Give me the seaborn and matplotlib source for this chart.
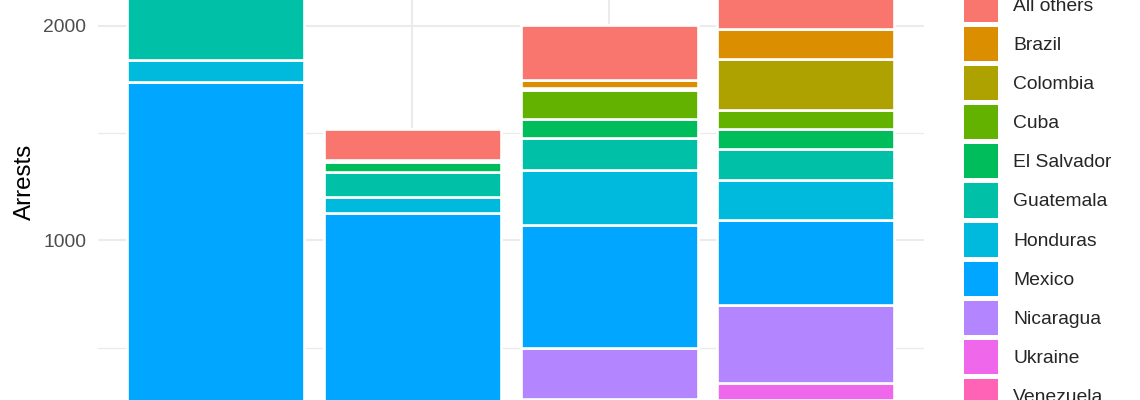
import pandas as pd
import matplotlib
matplotlib.use("Agg")
import matplotlib.pyplot as plt
from matplotlib.patches import Patch
from matplotlib.ticker import MultipleLocator
import seaborn as sns

sns.set_style("white")
plt.rcParams["font.family"] = ["Liberation Sans", "DejaVu Sans"]

# bars (their x labels fall below the visible region)
periods = ["Period 1", "Period 2", "Period 3", "Period 4"]

countries = ["All others", "Brazil", "Colombia", "Cuba", "El Salvador", "Guatemala",
             "Honduras", "Mexico", "Nicaragua", "Ukraine", "Venezuela"]
colors = ["#F8766D", "#DB8E00", "#AEA200", "#64B200", "#00BD5C", "#00C1A7",
          "#00BADE", "#00A6FF", "#B385FF", "#EF67EB", "#FF63B6"]

# arrests per bar, one list per country
all_others = [150, 143, 253, 250]
brazil = [0, 0, 37, 137]
colombia = [0, 0, 11, 238]
cuba = [0, 13, 138, 89]
el_salvador = [0, 45, 85, 95]
guatemala = [400, 117, 151, 145]
honduras = [102, 75, 254, 186]
mexico = [1737, 1127, 575, 395]
nicaragua = [0, 0, 240, 365]
ukraine = [0, 0, 0, 80]
venezuela = [0, 0, 259, 255]

series = [all_others, brazil, colombia, cuba, el_salvador, guatemala,
          honduras, mexico, nicaragua, ukraine, venezuela]

rows = []
for name, vals in zip(countries, series):
    for p, v in zip(periods, vals):
        rows.append({"period": p, "country": name, "arrests": v})
df = pd.DataFrame(rows)

fig = plt.figure(figsize=(11.4, 4), dpi=100)
ax = fig.add_axes([97.7 / 1140, 0, 826.3 / 1140, 1])

sns.histplot(data=df, x="period", hue="country", weights="arrests",
             hue_order=countries, palette=colors, multiple="stack",
             discrete=True, shrink=0.9, edgecolor="white", linewidth=1.9,
             alpha=1, legend=False, ax=ax)

ax.set_xlim(-0.6, 3.6)
ax.set_ylim(256, 2121)
ax.yaxis.set_major_locator(MultipleLocator(1000))
ax.yaxis.set_minor_locator(MultipleLocator(500))
ax.set_axisbelow(True)
ax.grid(which="major", color="#EBEBEB", linewidth=1.5)
ax.grid(which="minor", axis="y", color="#EBEBEB", linewidth=1.0)
for s in ax.spines.values():
    s.set_visible(False)
ax.tick_params(axis="both", which="both", length=0)
ax.tick_params(axis="x", labelbottom=False)
ax.tick_params(axis="y", pad=8.1, labelsize=13.9, labelcolor="#4D4D4D")
ax.set_xlabel("")
ax.set_ylabel("Arrests", fontsize=17.4, color="black")
ax.yaxis.set_label_coords(-0.075, 0.545)

handles = [Patch(facecolor=c, edgecolor="none", label=n) for n, c in zip(countries, colors)]
fig.legend(handles=handles, loc="upper left",
           bbox_to_anchor=(964.3 / 1140, 1 + 11.7 / 400), bbox_transform=fig.transFigure,
           frameon=False, fontsize=13.9, handlelength=1.76, handleheight=2.334,
           labelspacing=0.26, handletextpad=0.78, borderpad=0, borderaxespad=0)

fig.savefig("out.png", dpi=100)
